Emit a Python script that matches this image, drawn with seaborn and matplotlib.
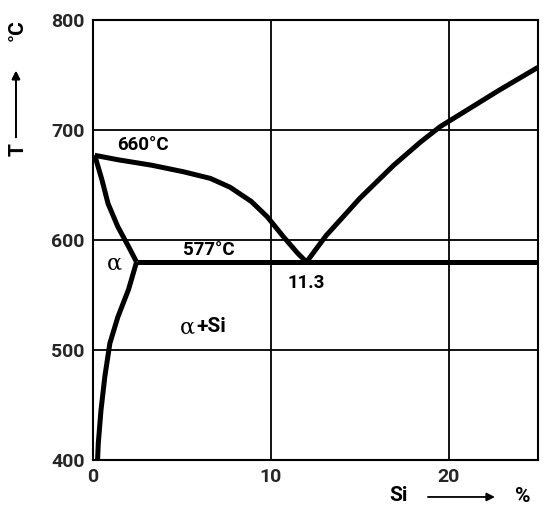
import numpy as np
import pandas as pd
import matplotlib.pyplot as plt
import seaborn as sns

# Al-Si phase diagram
liq_al_si = [0.1, 1.4, 3.3, 5.1, 6.6, 7.7, 8.9, 9.8, 10.7, 11.5, 12.0]
liq_al_t = [677, 673, 668, 662, 656, 648, 635, 621, 603, 588, 580]

liq_si_si = [12.0, 13.1, 15.0, 16.9, 18.4, 19.5, 21.0, 22.8, 25.0]
liq_si_t = [580, 604, 638, 668, 689, 703, 718, 736, 757]

solidus_si = [0.1, 0.5, 0.85, 1.4, 2.0, 2.45]
solidus_t = [677, 655, 633, 612, 594, 580]

solvus_si = [2.45, 2.0, 1.4, 0.95, 0.67, 0.45, 0.3, 0.26]
solvus_t = [580, 555, 530, 506, 476, 445, 415, 400]

eutectic_si = [2.45, 25.0]
eutectic_t = [580, 580]

x_ticks = [0, 10, 20]
y_ticks = [400, 500, 600, 700, 800]

sns.set_theme(style="white")
plt.rcParams['font.family'] = ['Roboto', 'DejaVu Sans']

fig = plt.figure(figsize=(5.5, 5.15), dpi=100)
ax = fig.add_axes([0.169, 0.107, 0.809, 0.854])

curves = [
    (liq_al_si, liq_al_t),
    (liq_si_si, liq_si_t),
    (solidus_si, solidus_t),
    (solvus_si, solvus_t),
    (eutectic_si, eutectic_t),
]
for xs, ys in curves:
    df = pd.DataFrame({"si": xs, "t": ys})
    sns.lineplot(data=df, x="si", y="t", sort=False, color="black",
                 linewidth=3.6, solid_capstyle="butt", solid_joinstyle="round", ax=ax)

ax.set_xlim(0, 25)
ax.set_ylim(400, 800)
ax.set_xticks(x_ticks)
ax.set_yticks(y_ticks)
ax.grid(True, color="black", linewidth=1.3)
for s in ax.spines.values():
    s.set_color("black")
    s.set_linewidth(1.5)
ax.tick_params(axis="both", length=0, labelsize=14, pad=6)
for lab in ax.get_xticklabels() + ax.get_yticklabels():
    lab.set_fontweight("bold")
ax.set_xlabel("")
ax.set_ylabel("")

txt = dict(fontsize=13.5, fontweight="bold", color="black")
ax.text(2.8, 686, "660°C", ha="center", va="center", **txt)
ax.text(6.5, 591, "577°C", ha="center", va="center", **txt)
ax.text(1.2, 579, "α", ha="center", va="center", fontsize=16, color="black",
        family="DejaVu Serif")
ax.text(5.3, 520, "α", ha="center", va="center", fontsize=16, color="black",
        family="DejaVu Serif")
ax.text(6.65, 521, "+Si", ha="center", va="center", fontsize=15,
        fontweight="bold", color="black")
ax.text(12.0, 561, "11.3", ha="center", va="center", **txt)

# axis captions with arrows
cap = dict(fontsize=15, fontweight="bold", color="black")
fig.text(0.033, 0.709, "T", rotation=90, ha="center", va="center", **cap)
fig.text(0.031, 0.942, "°C", rotation=90, ha="center", va="center", **cap)
fig.add_artist(plt.annotate("", xy=(0.029, 0.868), xytext=(0.029, 0.728),
                            xycoords="figure fraction", textcoords="figure fraction",
                            arrowprops=dict(arrowstyle="-|>", color="black", lw=1.3)))
fig.text(0.724, 0.037, "Si", ha="center", va="center", **cap)
fig.text(0.951, 0.035, "%", ha="center", va="center", **cap)
ax.annotate("", xy=(0.905, 0.035), xytext=(0.773, 0.035),
            xycoords="figure fraction", textcoords="figure fraction",
            arrowprops=dict(arrowstyle="-|>", color="black", lw=1.3),
            annotation_clip=False)

fig.savefig("out.png", dpi=100)
